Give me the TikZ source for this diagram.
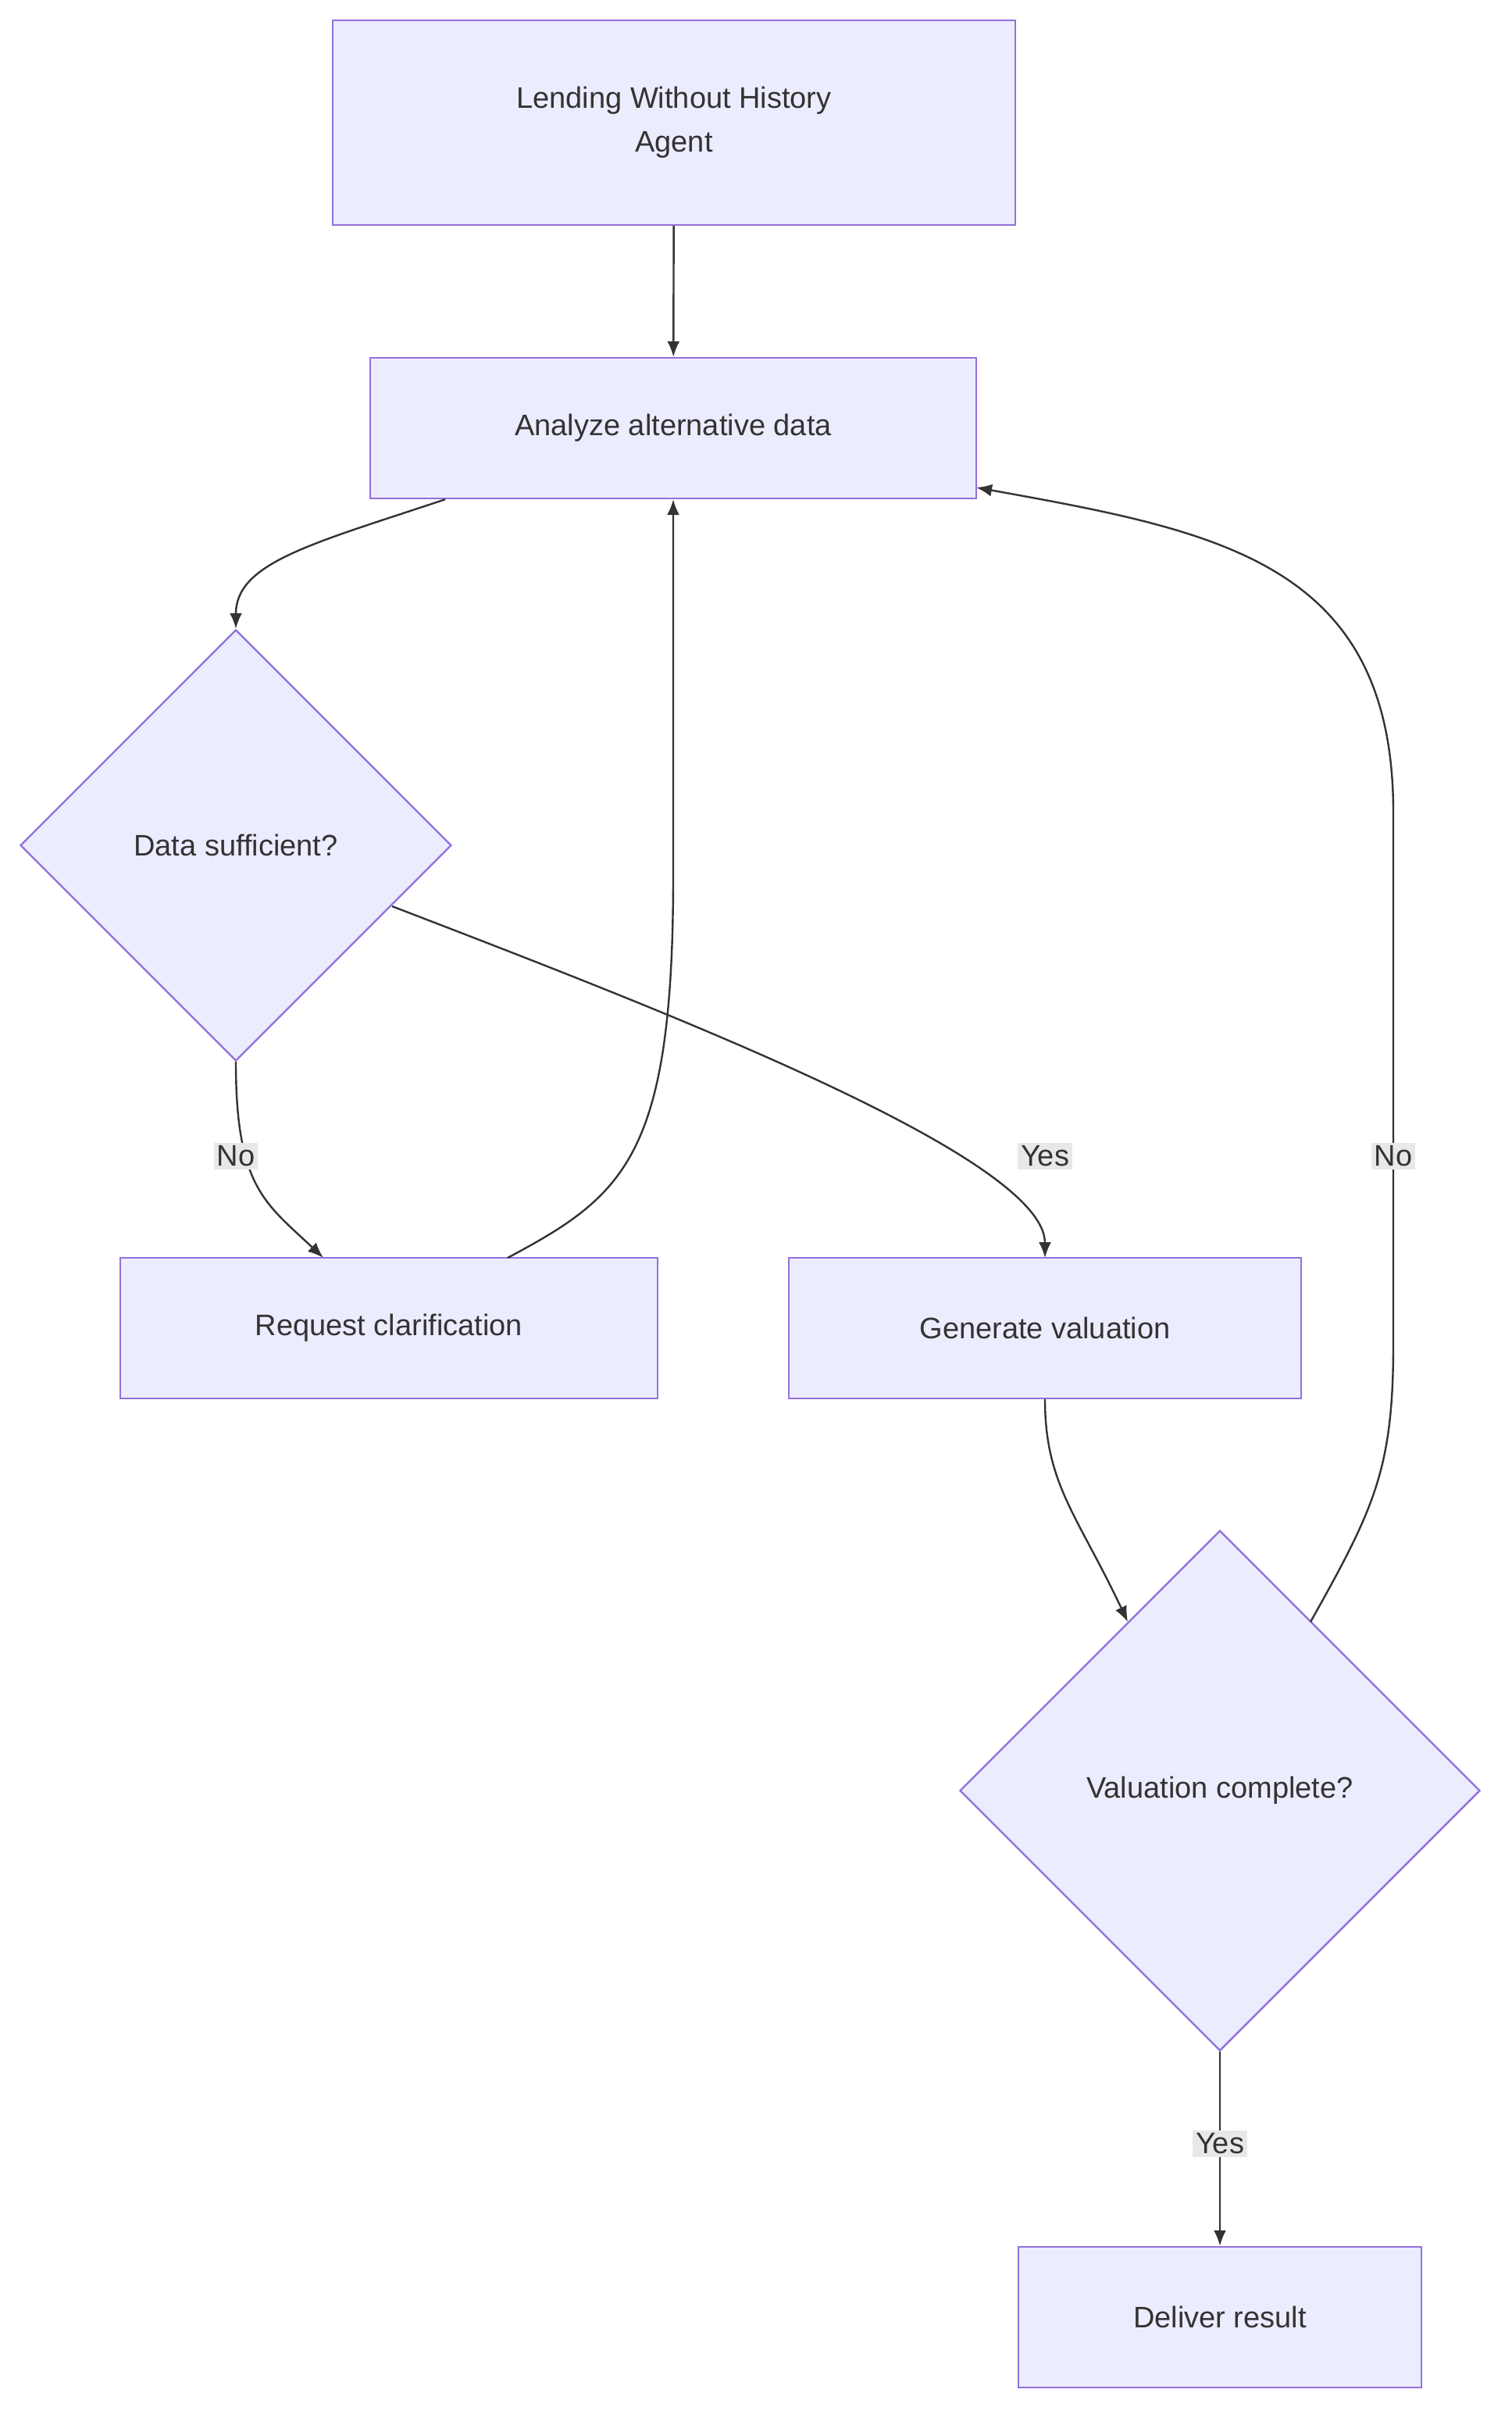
\documentclass[tikz,border=0pt]{standalone}
\usepackage{fontspec}
\setmainfont{Liberation Sans}
\usetikzlibrary{shapes.geometric,arrows.meta}
\definecolor{nfill}{HTML}{ECECFF}
\definecolor{nline}{HTML}{9370DB}
\definecolor{ink}{HTML}{333333}
\definecolor{lbg}{HTML}{E8E8E8}
\begin{document}
\begin{tikzpicture}[x=1pt,y=-1pt,
  box/.style={draw=nline,fill=nfill,line width=1.2pt,text=ink,font=\fontsize{19}{28}\selectfont,align=center,inner sep=0pt},
  dia/.style={draw=nline,fill=nfill,line width=1.2pt,text=ink,font=\fontsize{19}{28}\selectfont,diamond,aspect=1,inner sep=0pt},
  conn/.style={draw=ink,line width=1.2pt,-{Latex[length=10pt,width=8pt]}},
  lbl/.style={fill=lbg,text=ink,font=\fontsize{19}{24}\selectfont,inner sep=2pt}]
\useasboundingbox (0,0) rectangle (968,1552);
\node[box,minimum width=437pt,minimum height=131pt] (top) at (431.5,78.5) {Lending Without History\\Agent};
\node[box,minimum width=388pt,minimum height=90pt] (ana) at (431,274) {Analyze alternative data};
\node[dia,minimum size=276pt] (ds) at (151,541) {};
\node[text=ink,font=\fontsize{19}{28}\selectfont] at (151,541) {Data sufficient?};
\node[box,minimum width=344pt,minimum height=90pt] (req) at (249,850) {Request clarification};
\node[box,minimum width=328pt,minimum height=90pt] (gen) at (669,850) {Generate valuation};
\node[dia,minimum size=333pt] (vc) at (781,1146) {};
\node[text=ink,font=\fontsize{19}{28}\selectfont] at (781,1146) {Valuation complete?};
\node[box,minimum width=258pt,minimum height=90pt] (del) at (781,1483) {Deliver result};
\coordinate (a1) at (285,319.6);
\coordinate (d1) at (251,580);
\coordinate (r1) at (207,805);
\coordinate (r2) at (325,805);
\coordinate (g1) at (669,805);
\coordinate (v1) at (722,1038);
\coordinate (v2) at (839,1038);
\coordinate (a2) at (625,312);
\draw[conn] (top) -- (ana);
\draw[conn] (a1) .. controls (200,348) and (151,360) .. (ds.north);
\draw[conn] (d1) .. controls (420,645) and (669,740) .. (g1);
\draw[conn] (ds.south) .. controls (151,760) and (170,770) .. (r1);
\draw[conn] (r2) .. controls (400,765) and (431,740) .. (431,560) -- (ana.south);
\draw[conn] (gen.south) .. controls (669,950) and (690,970) .. (v1);
\draw[conn] (v2) .. controls (880,965) and (892,940) .. (892,860) -- (892,520) .. controls (892,360) and (780,340) .. (a2);
\draw[conn] (vc.south) -- (del.north);
\node[lbl] at (151,740) {No};
\node[lbl] at (669,740) {Yes};
\node[lbl] at (892,740) {No};
\node[lbl] at (781,1372) {Yes};
\end{tikzpicture}
\end{document}
